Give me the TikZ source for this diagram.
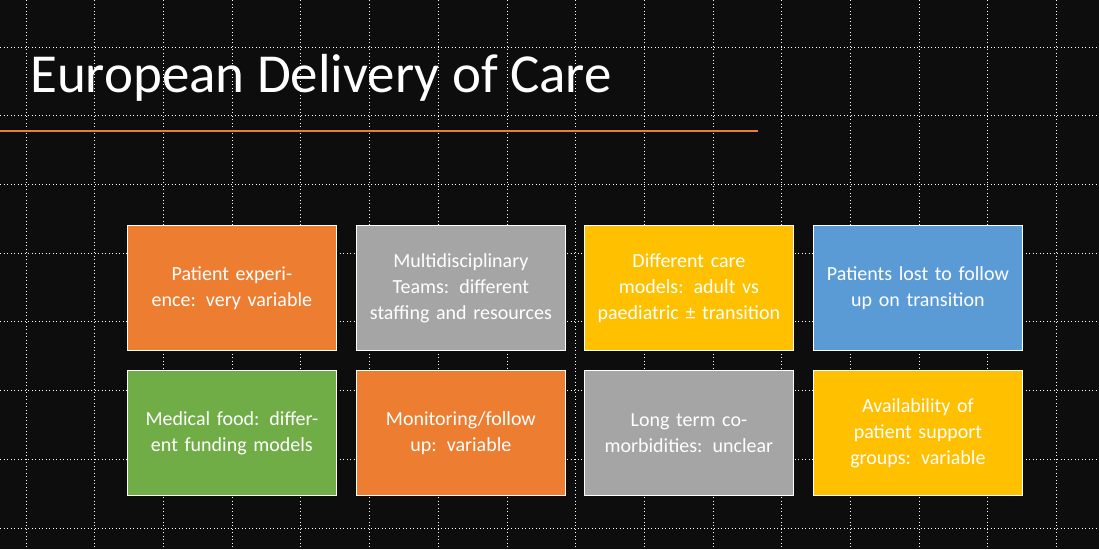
\documentclass[tikz,border=0pt]{standalone}
\usepackage{fontspec}
\setmainfont{Carlito}
\definecolor{bg}{HTML}{0D0D0D}
\definecolor{corange}{HTML}{ED7D31}
\definecolor{cgray}{HTML}{A5A5A5}
\definecolor{cgold}{HTML}{FFC000}
\definecolor{cblue}{HTML}{5B9BD5}
\definecolor{cgreen}{HTML}{70AD47}
\begin{document}
\begin{tikzpicture}[x=1pt,y=-1pt,
  box/.style={draw=white,line width=0.8pt,minimum width=209pt,minimum height=125pt,anchor=north west,
    text=white,align=center,text width=190pt,font=\fontsize{20}{26}\selectfont,inner sep=0pt},
  grid/.style={white,line width=0.8pt,dash pattern=on 1pt off 2.5pt}]
\fill[bg] (0,0) rectangle (1099,549);
\useasboundingbox (0,0) rectangle (1099,549);
\foreach \i in {0,...,15} \draw[grid] ({26+68.7*\i},0) -- ({26+68.7*\i},549);
\foreach \j in {0,...,7} \draw[grid] (0,{47+68.7*\j}) -- (1099,{47+68.7*\j});
\node[anchor=base west,text=white,font=\fontsize{55}{60}\selectfont,inner sep=0pt] (title) at (30,92) {European Delivery of Care};
\coordinate (l1) at (0,131); \coordinate (l2) at (758,131);
\draw[corange,line width=1.2pt] (l1) -- (l2);
\node[box,fill=corange] (b1) at (127,225) {Patient experience: very variable};
\node[box,fill=cgray] (b2) at (356,225) {Multidisciplinary Teams: different staffing and resources};
\node[box,fill=cgold] (b3) at (584,225) {Different care models: adult vs paediatric ± transition};
\node[box,fill=cblue] (b4) at (813,225) {Patients lost to follow up on transition};
\node[box,fill=cgreen] (b5) at (127,370) {Medical food: different funding models};
\node[box,fill=corange] (b6) at (356,370) {Monitoring/follow up: variable};
\node[box,fill=cgray] (b7) at (584,370) {Long term co-morbidities: unclear};
\node[box,fill=cgold] (b8) at (813,370) {Availability of patient support groups: variable};
\end{tikzpicture}
\end{document}
